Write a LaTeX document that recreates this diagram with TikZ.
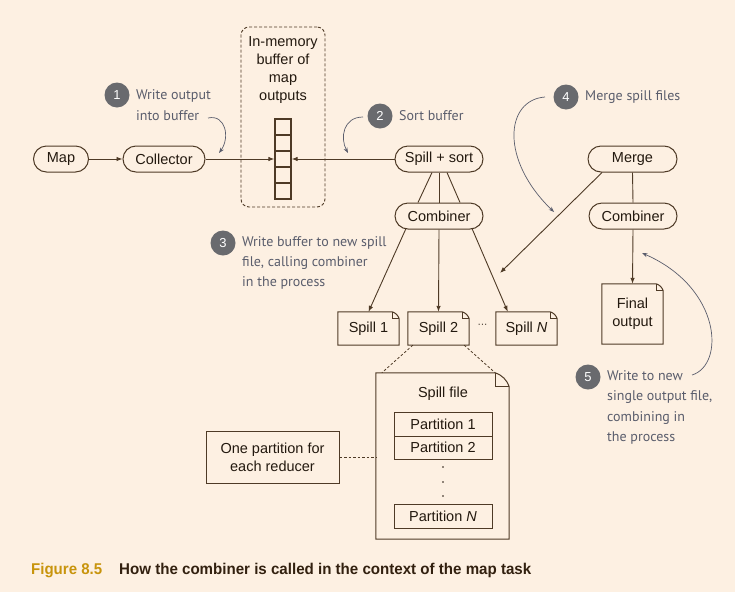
\documentclass[tikz,border=0pt]{standalone}
\usepackage{fontspec}
\setmainfont{Liberation Sans}
\newfontfamily\annfont{PT Sans}
\usetikzlibrary{arrows.meta,calc,backgrounds}
\definecolor{bg}{RGB}{253,240,226}
\definecolor{linec}{RGB}{78,58,38}
\definecolor{textc}{RGB}{35,25,15}
\definecolor{anncol}{RGB}{90,93,108}
\definecolor{circc}{RGB}{105,106,110}
\definecolor{gold}{RGB}{200,148,12}
\definecolor{capc}{RGB}{50,32,15}
\tikzset{
  nfont/.style={font=\fontsize{14.5}{18.3}\selectfont, text=textc},
  pill/.style={nfont, draw=linec, line width=1pt, fill=bg, rounded corners=13pt, minimum height=26pt, inner sep=0pt},
  plainbox/.style={nfont, draw=linec, line width=1pt, fill=bg, inner sep=0pt, align=center},
  filebody/.style={nfont, inner sep=0pt, align=center},
  fileline/.style={draw=linec, line width=1pt, fill=bg},
  cell/.style={draw=linec, line width=1.3pt, fill=bg, minimum width=16pt, minimum height=16pt, inner sep=0pt},
  dashbox/.style={draw=linec, line width=0.9pt, dash pattern=on 3pt off 2pt, rounded corners=8pt, inner sep=0pt},
  conn/.style={draw=linec, line width=0.9pt},
  arr/.style={conn, -{Latex[length=6pt,width=4.5pt]}},
  dconn/.style={draw=linec, line width=0.8pt, dash pattern=on 2.5pt off 2pt},
  annarr/.style={draw=anncol, line width=0.7pt, -{Stealth[length=5.5pt,width=4pt]}},
  numc/.style={circle, fill=circc, text=white, minimum size=25pt, inner sep=0pt, font=\fontsize{13}{13}\selectfont},
  anntext/.style={text=anncol, font=\annfont\fontsize{14}{20.3}\selectfont, align=left, inner sep=0pt, anchor=west},
}
\newcommand\fileoutline[2]{%
  \begin{pgfonlayer}{background}
  \draw[fileline] (#1.north west) -- ($(#1.north east)+(-#2,0)$)
     to[bend left=25] ($(#1.north east)+(0,#2)$) -- (#1.south east) -- (#1.south west) -- cycle;
  \draw[draw=linec, line width=0.8pt] ($(#1.north east)+(-#2,0)$) -- ($(#1.north east)+(-#2,#2)$) -- ($(#1.north east)+(0,#2)$);
  \end{pgfonlayer}
}
\begin{document}
\begin{tikzpicture}[x=1pt,y=-1pt]
\begin{pgfonlayer}{background}
\fill[bg] (0,0) rectangle (735,592);
\end{pgfonlayer}
\useasboundingbox (0,0) rectangle (735,592);

% top row nodes
\node[pill, minimum width=55pt] (map) at (61,159) {Map};
\node[pill, minimum width=82pt] (coll) at (164,159) {Collector};
\node[pill, minimum width=88pt] (sps) at (439,159) {Spill + sort};
\node[pill, minimum width=88pt] (comb1) at (439,216) {Combiner};
\node[pill, minimum width=89pt] (merge) at (632.5,159) {Merge};
\node[pill, minimum width=88pt] (comb2) at (633,216) {Combiner};

% in-memory buffer
\node[dashbox, minimum width=84pt, minimum height=180pt] (membox) at (283,117) {};
\node[nfont, align=center, inner sep=0pt] (memtext) at (283,70) {In-memory\\buffer of\\map\\outputs};
\node[cell] (c1) at (283,127) {};
\node[cell] (c2) at (283,143) {};
\node[cell] (c3) at (283,159) {};
\node[cell] (c4) at (283,175) {};
\node[cell] (c5) at (283,191) {};

% connectors top
\draw[arr] (map) -- (coll);
\draw[arr] (coll.east) -- (c3.west);
\draw[arr] (sps.west) -- (c3.east);
\draw[conn] ($(sps.south)+(-7,0)$) -- ($(comb1.north)+(-21,0)$);
\draw[conn] (sps.south) -- (comb1.north);
\draw[conn] ($(sps.south)+(8,0)$) -- ($(comb1.north)+(21,0)$);
\draw[conn] (merge.south) -- (comb2.north);

% spill files
\node[filebody, minimum width=61pt, minimum height=33pt] (sp1) at (368.5,328.5) {Spill 1};
\fileoutline{sp1}{7}
\node[filebody, minimum width=61pt, minimum height=33pt] (sp2) at (438.5,328.5) {Spill 2};
\fileoutline{sp2}{7}
\node[filebody, minimum width=61pt, minimum height=33pt] (spN) at (526.5,328.5) {Spill \textit{N}};
\fileoutline{spN}{7}
\node[nfont, inner sep=0pt] (dots) at (482.5,326) {\fontsize{10}{10}\selectfont ···};

\draw[arr] ($(comb1.south)+(-33,-1)$) -- (sp1.north);
\draw[arr] (comb1.south) -- (sp2.north);
\draw[arr] ($(comb1.south)+(33,-1)$) -- ($(spN.north west)+(12,0)$);
\coordinate (mergeend) at (500,273);
\draw[arr] ($(merge.south west)+(14.5,0)$) -- (mergeend);

% final output
\node[filebody, minimum width=61pt, minimum height=60pt] (final) at (632.5,314) {Final\\output};
\fileoutline{final}{7}
\draw[arr] (comb2.south) -- (final.north);

% big spill file
\node[filebody, minimum width=133pt, minimum height=166pt] (bigfile) at (442.5,456) {};
\fileoutline{bigfile}{14}
\node[filebody] (sftitle) at (443,394) {Spill file};
\node[plainbox, minimum width=98pt, minimum height=24pt] (p1) at (443,424) {Partition 1};
\node[plainbox, minimum width=98pt, minimum height=23pt] (p2) at (443,447.5) {Partition 2};
\node[plainbox, minimum width=98pt, minimum height=24pt] (pN) at (443,516) {Partition \textit{N}};
\fill[textc] (443,467) circle (0.8pt) (443,482) circle (0.8pt) (443,496) circle (0.8pt);

\draw[dconn] ($(sp2.south west)+(5,0)$) -- ($(bigfile.north west)+(6,0)$);
\draw[dconn] ($(sp2.south east)+(-5,0)$) -- ($(bigfile.north east)+(-14,0)$);

\node[plainbox, minimum width=133pt, minimum height=52pt] (onep) at (272.5,457) {One partition for\\each reducer};
\draw[dconn] (onep.east) -- (onep.east -| bigfile.west);

% annotations
\node[numc] (n1) at (117,95) {1};
\node[anntext] (t1) at (136,105) {Write output\\into buffer};
\coordinate (a1s) at (208,118);
\coordinate (a1e) at (219,153);
\draw[annarr] (a1s) .. controls (226,114) and (230,138) .. (a1e);

\node[numc] (n2) at (380,116) {2};
\node[anntext] (t2) at (399,116) {Sort buffer};
\coordinate (a2s) at (363,117);
\coordinate (a2e) at (348,153);
\draw[annarr] (a2s) .. controls (343,117) and (340,138) .. (a2e);

\node[numc] (n3) at (223,243) {3};
\node[anntext] (t3) at (242,263) {Write buffer to new spill\\file, calling combiner\\in the process};

\node[numc] (n4) at (566,97) {4};
\node[anntext] (t4) at (585,97) {Merge spill files};
\coordinate (a4s) at (545,97);
\coordinate (a4e) at (554,212);
\draw[annarr] (a4s) .. controls (505,100) and (500,160) .. (a4e);

\node[numc] (n5) at (588,377) {5};
\node[anntext] (t5) at (607,407.5) {Write to new\\single output file,\\combining in\\the process};
\coordinate (a5s) at (692,375);
\coordinate (a5e) at (642,253);
\draw[annarr] (a5s) .. controls (725,365) and (722,288) .. (a5e);

% caption
\node[anchor=base west, inner sep=0pt, text=gold] (figlabel) at (31,574.5) {\resizebox{71pt}{11.3pt}{\bfseries Figure 8.5}};
\node[anchor=base west, inner sep=0pt, text=capc] (figcap) at (119,574.5) {\resizebox{412pt}{11.3pt}{\bfseries How the combiner is called in the context of the map task}};
\end{tikzpicture}
\end{document}
